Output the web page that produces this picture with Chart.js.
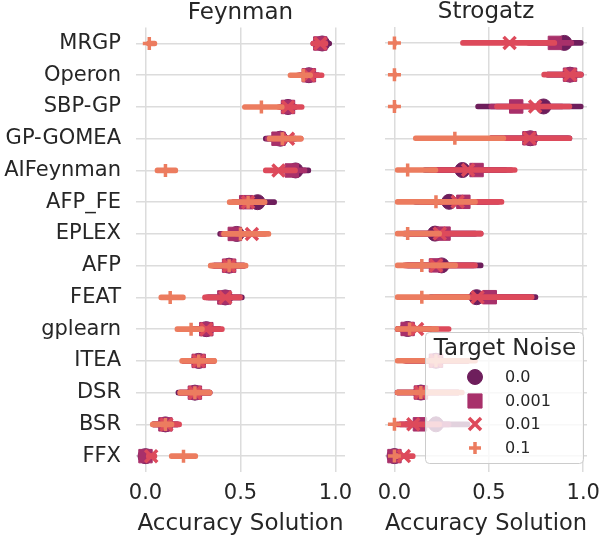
<!DOCTYPE html>
<html>
<head>
<meta charset="utf-8">
<script src="https://cdn.jsdelivr.net/npm/chart.js@4.4.0/dist/chart.umd.min.js"></script>
<style>
  html, body { margin: 0; padding: 0; background: #fff; overflow: hidden; }
  #wrap { position: relative; width: 600px; height: 539px; overflow: hidden; }
  canvas { position: absolute; top: 0; }
</style>
</head>
<body>
<div id="wrap">
  <canvas id="feynman" width="380" height="539" style="left:0;width:380px;height:539px"></canvas>
  <canvas id="strogatz" width="280" height="539" style="left:360px;width:280px;height:539px"></canvas>
</div>
<script>
const algorithms = ["MRGP", "Operon", "SBP-GP", "GP-GOMEA", "AIFeynman", "AFP_FE", "EPLEX",
  "AFP", "FEAT", "gplearn", "ITEA", "DSR", "BSR", "FFX"];
const noiseLevels = ["0.0", "0.001", "0.01", "0.1"];
const xTicks = [0, 0.5, 1.0];

// Feynman: mean accuracy and CI per target noise
const feynmanMean0 = [0.93, 0.86, 0.75, 0.71, 0.79, 0.59, 0.48, 0.44, 0.42, 0.32, 0.28, 0.26, 0.105, 0.0];
const feynmanCI0 = [[0.88, 0.98], [0.80, 0.92], [0.70, 0.80], [0.62, 0.80], [0.71, 0.87], [0.50, 0.69], [0.38, 0.58],
  [0.35, 0.53], [0.32, 0.52], [0.24, 0.40], [0.19, 0.37], [0.16, 0.35], [0.03, 0.18], [0.0, 0.01]];
const feynmanMean1 = [0.92, 0.86, 0.75, 0.70, 0.77, 0.53, 0.47, 0.44, 0.415, 0.32, 0.28, 0.26, 0.105, 0.0];
const feynmanCI1 = [[0.87, 0.96], [0.80, 0.92], [0.70, 0.80], [0.63, 0.79], [0.70, 0.85], [0.45, 0.62], [0.39, 0.57],
  [0.35, 0.53], [0.31, 0.51], [0.24, 0.40], [0.19, 0.37], [0.17, 0.35], [0.03, 0.18], [0.0, 0.01]];
const feynmanMean2 = [0.92, 0.86, 0.75, 0.75, 0.70, 0.54, 0.56, 0.44, 0.42, 0.32, 0.28, 0.26, 0.11, 0.03];
const feynmanCI2 = [[0.87, 0.96], [0.79, 0.94], [0.69, 0.835], [0.66, 0.83], [0.62, 0.80], [0.45, 0.63], [0.47, 0.64],
  [0.34, 0.53], [0.30, 0.51], [0.24, 0.415], [0.19, 0.37], [0.17, 0.35], [0.03, 0.19], [0.0, 0.06]];
const feynmanMean3 = [0.02, 0.83, 0.61, 0.72, 0.105, 0.54, 0.50, 0.44, 0.13, 0.24, 0.28, 0.26, 0.105, 0.20];
const feynmanCI3 = [[0.0, 0.06], [0.75, 0.88], [0.51, 0.73], [0.64, 0.83], [0.05, 0.17], [0.43, 0.64], [0.40, 0.66],
  [0.33, 0.54], [0.07, 0.21], [0.155, 0.31], [0.18, 0.375], [0.17, 0.35], [0.025, 0.15], [0.125, 0.275]];

// Strogatz
const strogatzMean0 = [0.90, 0.93, 0.79, 0.72, 0.36, 0.29, 0.215, 0.25, 0.435, 0.07, 0.22, 0.14, 0.22, 0.0];
const strogatzCI0 = [[0.80, 1.0], [0.80, 1.0], [0.43, 1.0], [0.50, 0.94], [0.15, 0.60], [0.10, 0.50], [0.04, 0.44],
  [0.06, 0.47], [0.18, 0.76], [0.0, 0.20], [0.05, 0.40], [0.0, 0.35], [0.05, 0.40], [0.0, 0.01]];
const strogatzMean1 = [0.85, 0.93, 0.645, 0.715, 0.435, 0.365, 0.26, 0.22, 0.505, 0.07, 0.22, 0.14, 0.135, 0.0];
const strogatzCI1 = [[0.70, 0.95], [0.80, 1.0], [0.50, 0.90], [0.50, 0.93], [0.22, 0.63], [0.15, 0.56], [0.06, 0.47],
  [0.05, 0.43], [0.25, 0.73], [0.0, 0.20], [0.05, 0.40], [0.0, 0.35], [0.02, 0.30], [0.0, 0.01]];
const strogatzMean2 = [0.61, 0.93, 0.745, 0.715, 0.39, 0.335, 0.24, 0.22, 0.44, 0.12, 0.22, 0.14, 0.10, 0.05];
const strogatzCI2 = [[0.35, 0.86], [0.78, 1.0], [0.53, 0.94], [0.50, 0.94], [0.18, 0.65], [0.13, 0.58], [0.05, 0.47],
  [0.04, 0.44], [0.20, 0.74], [0.0, 0.30], [0.04, 0.40], [0.0, 0.35], [0.0, 0.25], [0.0, 0.11]];
const strogatzMean3 = [0.0, 0.0, 0.0, 0.32, 0.07, 0.22, 0.07, 0.145, 0.145, 0.08, 0.22, 0.14, 0.0, 0.0];
const strogatzCI3 = [[0.0, 0.01], [0.0, 0.01], [0.0, 0.01], [0.10, 0.59], [0.0, 0.23], [0.0, 0.44], [0.0, 0.25],
  [0.0, 0.335], [0.0, 0.40], [0.0, 0.235], [0.0, 0.44], [0.0, 0.37], [0.0, 0.01], [0.0, 0.02]];

const colors = ["#6e1e5c", "#a8306a", "#dd4a5b", "#ec7c5f"];
const markers = [
  { pointStyle: "circle", radius: 7.5, borderWidth: 1 },
  { pointStyle: "rect", radius: 9.5, borderWidth: 1 },
  { pointStyle: "crossRot", radius: 8.5, borderWidth: 3.5 },
  { pointStyle: "cross", radius: 6.5, borderWidth: 3.5 },
];
const textColor = "#262626";
const gridColor = "#dcdcdc";
const FONT = "'DejaVu Sans', sans-serif";

Chart.defaults.font.family = FONT;
Chart.defaults.color = textColor;

// each noise level: markers first, then its CI line on top (lower order draws later)
const buildDatasets = (means, cis) => {
  const sets = [];
  means.forEach((m, j) => {
    const mk = markers[j];
    sets.push({
      type: "line",
      label: noiseLevels[j],
      data: m,
      indexAxis: "y",
      showLine: false,
      pointStyle: mk.pointStyle,
      pointRadius: mk.radius,
      pointBorderWidth: mk.borderWidth,
      pointBackgroundColor: colors[j],
      pointBorderColor: colors[j],
      order: 8 - 2 * j,
    });
    sets.push({
      type: "bar",
      label: noiseLevels[j] + " ci",
      data: cis[j],
      indexAxis: "y",
      backgroundColor: colors[j],
      barThickness: 5,
      grouped: false,
      borderRadius: 3,
      borderSkipped: false,
      order: 7 - 2 * j,
    });
  });
  return sets;
};

const noiseLegend = {
  id: "noiseLegend",
  afterDatasetsDraw(chart) {
    const ctx = chart.ctx;
    ctx.save();
    ctx.beginPath();
    ctx.roundRect(65.5, 332.5, 158, 131, 4);
    ctx.fillStyle = "rgba(255,255,255,0.8)";
    ctx.fill();
    ctx.strokeStyle = "#cccccc";
    ctx.lineWidth = 1;
    ctx.stroke();

    ctx.fillStyle = textColor;
    ctx.textAlign = "center";
    ctx.textBaseline = "middle";
    ctx.font = "23px " + FONT;
    ctx.fillText("Target Noise", 145, 349);

    ctx.textAlign = "left";
    ctx.font = "16px " + FONT;
    const rowsY = [377, 401, 424, 448];
    const legendMarkers = [
      { pointStyle: "circle", radius: 7.5, borderWidth: 1 },
      { pointStyle: "rect", radius: 10, borderWidth: 1 },
      { pointStyle: "crossRot", radius: 8.5, borderWidth: 3.5 },
      { pointStyle: "cross", radius: 6, borderWidth: 3.5 },
    ];
    noiseLevels.forEach((lvl, j) => {
      ctx.fillStyle = colors[j];
      ctx.strokeStyle = colors[j];
      ctx.lineWidth = legendMarkers[j].borderWidth;
      Chart.helpers.drawPoint(ctx, { ...legendMarkers[j], rotation: 0 }, 115, rowsY[j]);
      ctx.fillStyle = textColor;
      ctx.fillText(lvl, 145, rowsY[j] + 1);
    });
    ctx.restore();
  },
};

const makeChart = (id, title, means, cis, opts) => {
  const ctx = document.getElementById(id).getContext("2d");
  return new Chart(ctx, {
    type: "bar",
    data: { labels: algorithms, datasets: buildDatasets(means, cis) },
    options: {
      indexAxis: "y",
      responsive: false,
      animation: false,
      events: [],
      layout: { padding: { left: 0, right: opts.padRight, top: 0, bottom: 0 } },
      plugins: { legend: { display: false }, tooltip: { enabled: false } },
      scales: {
        x: {
          type: "linear",
          min: -0.05,
          max: opts.xMax,
          afterBuildTicks: (scale) => { scale.ticks = xTicks.map(v => ({ value: v })); },
          afterFit: (scale) => { scale.height = 67; },
          ticks: { font: { size: 21 }, padding: 9, callback: v => v.toFixed(1) },
          grid: { color: gridColor, lineWidth: 1.5, drawTicks: false },
          border: { display: false },
          title: { display: true, text: "Accuracy Solution", font: { size: 23 }, padding: { top: 0, bottom: 1 } },
        },
        xTop: {
          type: "linear",
          position: "top",
          afterFit: (scale) => { scale.height = 27; },
          ticks: { display: false },
          grid: { display: false, drawTicks: false },
          border: { display: false },
          title: { display: true, text: title, font: { size: 23, lineHeight: 1 }, padding: { top: 1, bottom: 0 } },
        },
        y: {
          type: "category",
          offset: true,
          afterFit: (scale) => { scale.width = opts.yWidth; },
          ticks: { display: opts.showLabels, font: { size: 21 }, padding: 15 },
          grid: { color: gridColor, lineWidth: 1.5, offset: false, drawTicks: false },
          border: { display: false },
        },
      },
    },
    plugins: opts.plugins,
  });
};

makeChart("feynman", "Feynman",
  [feynmanMean0, feynmanMean1, feynmanMean2, feynmanMean3],
  [feynmanCI0, feynmanCI1, feynmanCI2, feynmanCI3],
  { padRight: 35, xMax: 1.05, yWidth: 136, showLabels: true, plugins: [] });

makeChart("strogatz", "Strogatz",
  [strogatzMean0, strogatzMean1, strogatzMean2, strogatzMean3],
  [strogatzCI0, strogatzCI1, strogatzCI2, strogatzCI3],
  { padRight: 53, xMax: 1.02, yWidth: 25, showLabels: false, plugins: [noiseLegend] });
</script>
</body>
</html>
